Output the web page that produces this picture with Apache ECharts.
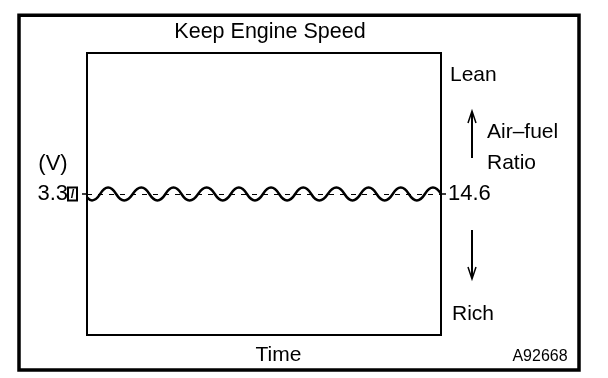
<!DOCTYPE html>
<html>
<head>
<meta charset="utf-8">
<script src="https://cdn.jsdelivr.net/npm/echarts@6/dist/echarts.min.js"></script>
<style>
html,body{margin:0;padding:0;background:#fff;}
#chart{width:608px;height:378px;}
</style>
</head>
<body>
<div id="chart"></div>
<script>
// Data (time in arbitrary units across the plot, voltage in V)
const timePoints = [0, 5, 21, 37, 54, 70, 86, 102, 119, 135, 151, 167, 183, 199, 215, 231, 248, 264, 280, 296, 312, 328, 344, 352];
const voltages   = [3.22, 3.15, 3.45, 3.15, 3.45, 3.15, 3.45, 3.15, 3.45, 3.15, 3.45, 3.15, 3.45, 3.15, 3.45, 3.15, 3.45, 3.15, 3.45, 3.15, 3.45, 3.15, 3.45, 3.30];
const voltageTick = [3.3];
const voltageTickLabel = '3.3';
const ratioTickLabel = '14.6';
const titleText = 'Keep Engine Speed';
const xName = 'Time';
const unitText = '(V)';
const leanText = 'Lean';
const richText = 'Rich';
const ratioText1 = 'Air\u2013fuel';
const ratioText2 = 'Ratio';
const figureId = 'A92668';

const FONT = '"Liberation Sans", Arial, Helvetica, sans-serif';
const chart = echarts.init(document.getElementById('chart'), null, {renderer: 'canvas'});

const seriesData = timePoints.map((t, i) => [t, voltages[i]]);

function txt(text, x, y, size, align) {
  return {
    type: 'text', x: x, y: y,
    style: {text: text, fill: '#000', font: size + 'px ' + FONT, textAlign: align || 'left', textVerticalAlign: 'middle'}
  };
}

const option = {
  backgroundColor: '#fff',
  animation: false,
  grid: {left: 87, right: 167, top: 53, bottom: 43, show: true, borderColor: '#000', borderWidth: 2, backgroundColor: 'transparent'},
  xAxis: {
    type: 'value', min: 0, max: 352,
    axisLine: {show: false}, axisTick: {show: false}, axisLabel: {show: false}, splitLine: {show: false},
    name: xName, nameLocation: 'middle', nameGap: 10,
    nameTextStyle: {color: '#000', fontSize: 21, fontFamily: FONT, padding: [0, 0, 0, 29]}
  },
  yAxis: [
    {
      type: 'value', min: 0, max: 6.6, position: 'left',
      axisLine: {show: false}, splitLine: {show: false},
      axisTick: {show: true, customValues: voltageTick, length: 5, lineStyle: {color: '#000', width: 1.5}},
      axisLabel: {
        customValues: voltageTick, margin: 10, color: '#000', fontSize: 22, fontFamily: FONT,
        formatter: function () { return voltageTickLabel + '{box|/}'; },
        rich: {box: {borderColor: '#000', borderWidth: 2, width: 9, height: 13, align: 'center', fontSize: 13, fontWeight: 'bold', fontFamily: FONT, color: '#000', padding: [0, 0, 0, 0]}}
      }
    },
    {
      type: 'value', min: 0, max: 6.6, position: 'right',
      axisLine: {show: false}, splitLine: {show: false},
      axisTick: {show: true, customValues: voltageTick, length: 5, lineStyle: {color: '#000', width: 1.5}},
      axisLabel: {
        customValues: voltageTick, margin: 7, color: '#000', fontSize: 22, fontFamily: FONT,
        formatter: function () { return ratioTickLabel; }
      }
    }
  ],
  series: [{
    type: 'line', data: seriesData, smooth: 0.5, showSymbol: false, yAxisIndex: 0,
    lineStyle: {color: '#000', width: 2.5},
    markLine: {
      silent: true, symbol: ['none', 'none'], label: {show: false},
      lineStyle: {color: '#000', width: 1, type: [5, 6]},
      data: [{yAxis: voltageTick[0]}]
    }
  }],
  graphic: [
    {type: 'rect', shape: {x: 19, y: 15.3, width: 560, height: 354.7}, style: {fill: 'none', stroke: '#000', lineWidth: 3.5}},
    txt(titleText, 270, 32, 21.5, 'center'),
    txt(unitText, 53, 164, 22, 'center'),
    txt(leanText, 450, 75, 21),
    txt(ratioText1, 487, 132, 21),
    txt(ratioText2, 487, 163, 21),
    txt(richText, 452, 314, 21),
    txt(figureId, 540, 357, 16, 'center'),
    {type: 'polyline', shape: {points: [[472, 158], [472, 112]]}, style: {stroke: '#000', lineWidth: 2, fill: 'none'}},
    {type: 'polyline', shape: {points: [[468, 123], [472, 111], [476, 123]]}, style: {stroke: '#000', lineWidth: 1.5, fill: 'none'}},
    {type: 'polyline', shape: {points: [[472, 230], [472, 278]]}, style: {stroke: '#000', lineWidth: 2, fill: 'none'}},
    {type: 'polyline', shape: {points: [[468, 267], [472, 279], [476, 267]]}, style: {stroke: '#000', lineWidth: 1.5, fill: 'none'}}
  ]
};
chart.setOption(option);
</script>
</body>
</html>
